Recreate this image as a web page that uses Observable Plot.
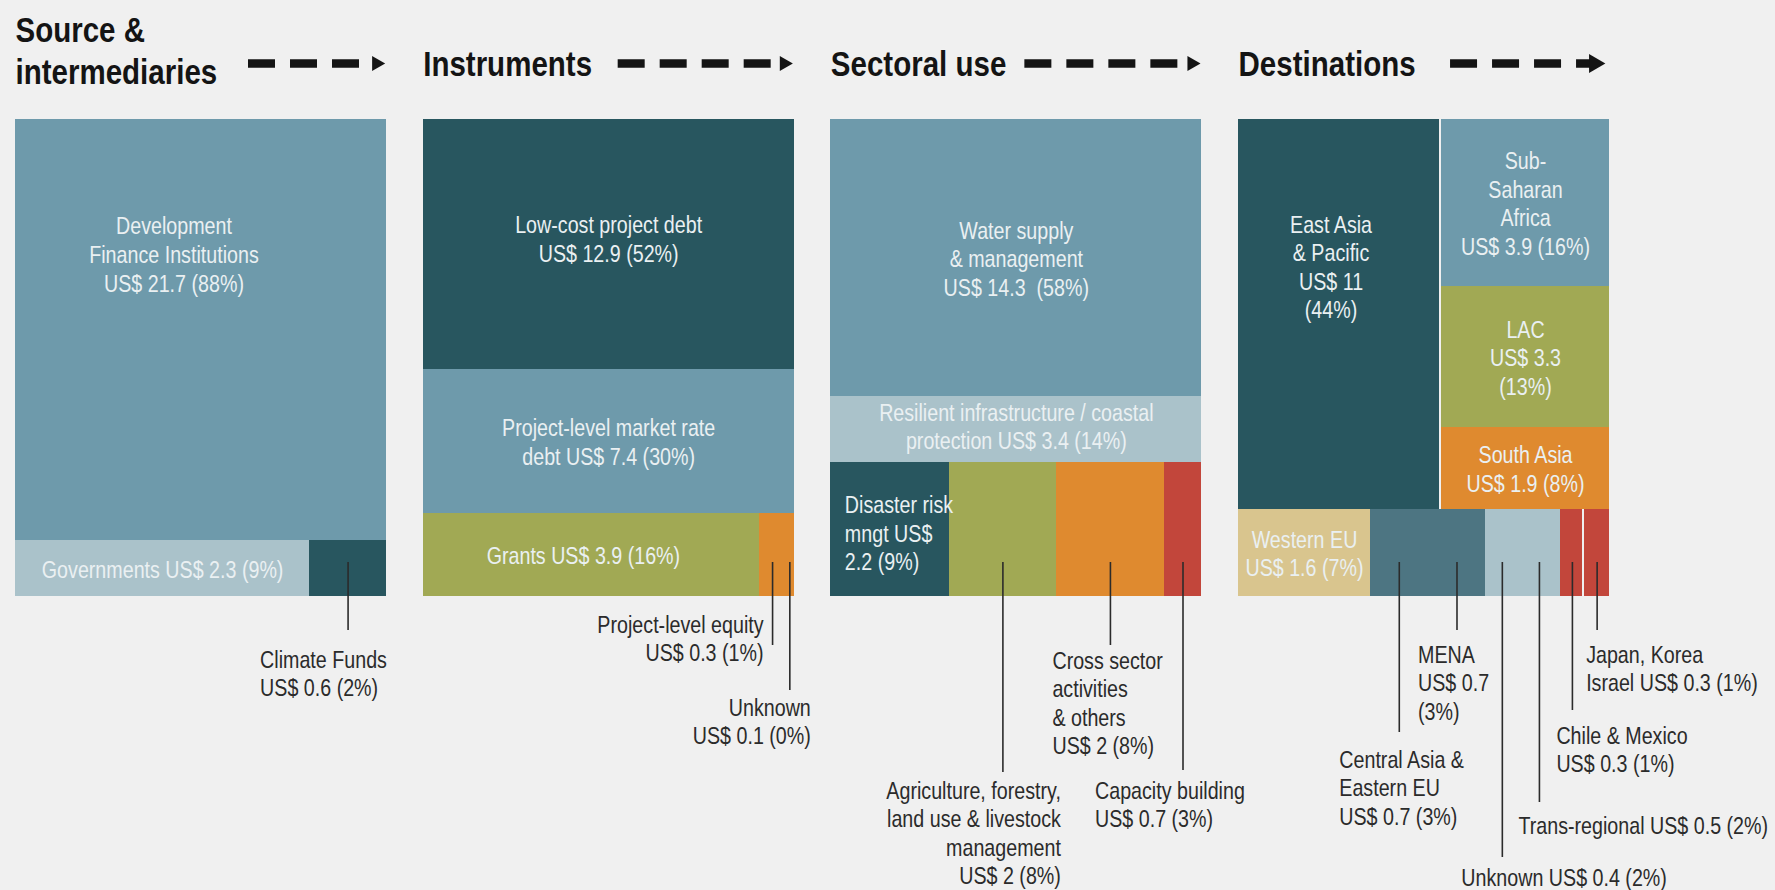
<!DOCTYPE html>
<html>
<head>
<meta charset="utf-8">
<script src="https://cdn.jsdelivr.net/npm/d3@7"></script>
<script src="https://cdn.jsdelivr.net/npm/@observablehq/plot@0.6"></script>
<style>
  html, body { margin: 0; padding: 0; background: #f0f0f0; overflow: hidden; }
  #chart svg { display: block; }
</style>
</head>
<body>
<div id="chart"></div>
<script>
// ---------------- DATA ----------------
const stages = ["Source & intermediaries", "Instruments", "Sectoral use", "Destinations"];
const stageTitles = ["Source &\nintermediaries", "Instruments", "Sectoral use", "Destinations"];

const sourceIds = ["dfi", "gov", "cf"];
const sourceLabels = ["Development\nFinance Institutions\nUS$ 21.7 (88%)", "Governments US$ 2.3 (9%)", "Climate Funds\nUS$ 0.6 (2%)"];
const sourceValues = [21.7, 2.3, 0.6];

const instrumentIds = ["lowcost", "market", "grants", "equity", "unknownInstr"];
const instrumentLabels = ["Low-cost project debt\nUS$ 12.9 (52%)", "Project-level market rate\ndebt US$ 7.4 (30%)", "Grants US$ 3.9 (16%)", "Project-level equity\nUS$ 0.3 (1%)", "Unknown\nUS$ 0.1 (0%)"];
const instrumentValues = [12.9, 7.4, 3.9, 0.3, 0.1];

const sectorIds = ["water", "resilient", "disaster", "agri", "cross", "capacity"];
const sectorLabels = ["Water supply\n& management\nUS$ 14.3  (58%)", "Resilient infrastructure / coastal\nprotection US$ 3.4 (14%)", "Disaster risk\nmngt US$\n2.2 (9%)", "Agriculture, forestry,\nland use & livestock\nmanagement\nUS$ 2 (8%)", "Cross sector\nactivities\n& others\nUS$ 2 (8%)", "Capacity building\nUS$ 0.7 (3%)"];
const sectorValues = [14.3, 3.4, 2.2, 2, 2, 0.7];

const destinationIds = ["eap", "ssa", "lac", "sasia", "weu", "caeeu", "mena", "unknownDest", "trans", "chmx", "jki"];
const destinationLabels = ["East Asia\n& Pacific\nUS$ 11\n(44%)", "Sub-\nSaharan\nAfrica\nUS$ 3.9 (16%)", "LAC\nUS$ 3.3\n(13%)", "South Asia\nUS$ 1.9 (8%)", "Western EU\nUS$ 1.6 (7%)", "Central Asia &\nEastern EU\nUS$ 0.7 (3%)", "MENA\nUS$ 0.7\n(3%)", "Unknown US$ 0.4 (2%)", "Trans-regional US$ 0.5 (2%)", "Chile & Mexico\nUS$ 0.3 (1%)", "Japan, Korea\nIsrael US$ 0.3 (1%)"];
const destinationValues = [11, 3.9, 3.3, 1.9, 1.6, 0.7, 0.7, 0.4, 0.5, 0.3, 0.3];

// ---------------- STRUCTURE (mosaic nesting: v = stacked rows, h = side by side) ----------------
const panelItems = [
  {ids: sourceIds, labels: sourceLabels, values: sourceValues, tree: {v: [0, {h: [1, 2]}]}},
  {ids: instrumentIds, labels: instrumentLabels, values: instrumentValues, tree: {v: [0, 1, {h: [2, 3, 4]}]}},
  {ids: sectorIds, labels: sectorLabels, values: sectorValues, tree: {v: [0, 1, {h: [2, 3, 4, 5]}]}},
  {ids: destinationIds, labels: destinationLabels, values: destinationValues,
   tree: {v: [{h: [0, {v: [1, 2, 3]}]}, {h: [4, 5, 6, 7, 8, 9, 10]}]}}
];

// ---------------- STYLE ----------------
const DARK = "#28565f", MED = "#6e9aab", LIGHT = "#aac2ca", OLIVE = "#a1a954",
      ORANGE = "#df8a2f", RED = "#c2463b", TAN = "#d9c58e", SLATE = "#4d7582";
const palette = {
  dfi: MED, gov: LIGHT, cf: DARK,
  lowcost: DARK, market: MED, grants: OLIVE, equity: ORANGE, unknownInstr: ORANGE,
  water: MED, resilient: LIGHT, disaster: DARK, agri: OLIVE, cross: ORANGE, capacity: RED,
  eap: DARK, ssa: MED, lac: OLIVE, sasia: ORANGE, weu: TAN, caeeu: SLATE, mena: SLATE,
  unknownDest: LIGHT, trans: LIGHT, chmx: RED, jki: RED
};
// thin light separators seen in the reference
const separated = new Set(["eap", "chmx"]);
const FONT = "'Liberation Sans', Arial, sans-serif";
const NARROW = 0.82; // horizontal condensing of all text
const INK = "#2b2b2b";
const TEXT_IN = "#eaf0f2";

// labels drawn inside blocks (with optional nudges in px)
const innerLabels = {
  dfi: {dx: -27, dy: -76}, gov: {}, lowcost: {dy: -6}, market: {}, grants: {dx: -8},
  water: {}, resilient: {dy: -4}, disaster: {anchor: "start", dx: 14, dy: 3},
  eap: {dx: -9, dy: -48}, ssa: {}, lac: {}, sasia: {}, weu: {}
};
// callouts below the blocks: leader drop (px below block), text offsets (px)
const callouts = [
  {id: "cf", drop: 34, dx: -88, dy: 51, anchor: "start"},
  {id: "equity", drop: 49, dx: -9, dy: 16, anchor: "end"},
  {id: "unknownInstr", drop: 94, dx: 21, dy: 99, anchor: "end"},
  {id: "agri", drop: 176, dx: 58, dy: 182, anchor: "end"},
  {id: "cross", drop: 49, dx: -58, dy: 52, anchor: "start"},
  {id: "capacity", drop: 174, dx: -88, dy: 182, anchor: "start"},
  {id: "caeeu", drop: 136, dx: -60, dy: 151, anchor: "start"},
  {id: "mena", drop: 34, dx: -39, dy: 46, anchor: "start"},
  {id: "unknownDest", drop: 261, dx: -41, dy: 269, anchor: "start"},
  {id: "trans", drop: 206, dx: -21, dy: 217, anchor: "start"},
  {id: "chmx", drop: 114, dx: -16, dy: 127, anchor: "start"},
  {id: "jki", drop: 34, dx: -11, dy: 46, anchor: "start"}
];
const arrowStartPx = [233, 195, 194, 212];

// ---------------- LAYOUT ----------------
const W = 1775, H = 890, MT = 119, MB = 294, ML = 15, MR = 166;
const GAP = 0.099;
const xMax = stages.length + (stages.length - 1) * GAP;
const totals = panelItems.map(p => d3.sum(p.values));
const yMax = d3.max(totals);
const ppx = (W - ML - MR) / xMax;
const ppu = (H - MT - MB) / yMax;

function nodeSum(node, values) {
  return typeof node === "number" ? values[node] : d3.sum(node.v || node.h, k => nodeSum(k, values));
}
function layout(node, values, x0, x1, y0, y1, out) {
  if (typeof node === "number") { out[node] = {x1: x0, x2: x1, y1: y0, y2: y1}; return; }
  const kids = node.v || node.h;
  const sums = kids.map(k => nodeSum(k, values));
  const tot = d3.sum(sums);
  let acc = 0;
  kids.forEach((k, i) => {
    const a = acc / tot, b = (acc + sums[i]) / tot;
    if (node.v) layout(k, values, x0, x1, y0 + a * (y1 - y0), y0 + b * (y1 - y0), out);
    else layout(k, values, x0 + a * (x1 - x0), x0 + b * (x1 - x0), y0, y1, out);
    acc += sums[i];
  });
}

const panels = stages.map((s, i) => ({stage: s, title: stageTitles[i], x0: i * (1 + GAP), x1: i * (1 + GAP) + 1, arrowStart: arrowStartPx[i], idx: i}));
const leaves = [];
panelItems.forEach((p, pi) => {
  const out = [];
  layout(p.tree, p.values, panels[pi].x0, panels[pi].x1, 0, totals[pi], out);
  p.ids.forEach((id, j) => {
    const r = out[j];
    leaves.push({stage: stages[pi], id, label: p.labels[j], value: p.values[j], ...r,
      cx: (r.x1 + r.x2) / 2, cy: (r.y1 + r.y2) / 2});
  });
});
const leafById = Object.fromEntries(leaves.map(d => [d.id, d]));

// ---------------- MARKS ----------------
const marks = [];
marks.push(Plot.rect(leaves.filter(d => !separated.has(d.id)), {
  x1: "x1", x2: "x2", y1: "y1", y2: "y2", fill: d => palette[d.id], shapeRendering: "crispEdges"
}));
marks.push(Plot.rect(leaves.filter(d => separated.has(d.id)), {
  x1: "x1", x2: "x2", y1: "y1", y2: "y2", fill: d => palette[d.id], insetRight: 2, shapeRendering: "crispEdges"
}));

// inner labels
for (const [id, o] of Object.entries(innerLabels)) {
  const d = leafById[id];
  marks.push(Plot.text([d], {
    x: o.anchor === "start" ? "x1" : "cx", y: "cy", text: "label",
    dx: o.dx || 0, dy: o.dy || 0, textAnchor: o.anchor || "middle", lineAnchor: "middle",
    fill: TEXT_IN, fontSize: 24, lineHeight: 1.19, fontFamily: FONT
  }));
}

// leader lines
marks.push(Plot.ruleX(callouts, {
  x: c => leafById[c.id].cx,
  y1: c => leafById[c.id].y2 - 34 / ppu,
  y2: c => leafById[c.id].y2 + c.drop / ppu,
  stroke: INK, strokeWidth: 1.6
}));
// callout texts
for (const c of callouts) {
  const d = leafById[c.id];
  marks.push(Plot.text([d], {
    x: "cx", y: "y2", text: "label", dx: c.dx, dy: c.dy,
    textAnchor: c.anchor, lineAnchor: "top",
    fill: INK, fontSize: 24, lineHeight: 1.19, fontFamily: FONT
  }));
}

// stage headings
marks.push(Plot.text(panels.filter(p => p.idx === 0), {
  x: "x0", y: () => 0, text: "title", dy: -36, textAnchor: "start", lineAnchor: "bottom",
  fontSize: 36, fontWeight: "bold", lineHeight: 1.14, fill: "#141414", fontFamily: FONT
}));
marks.push(Plot.text(panels.filter(p => p.idx > 0), {
  x: "x0", y: () => 0, text: "title", dy: -44, textAnchor: "start", lineAnchor: "bottom",
  fontSize: 36, fontWeight: "bold", fill: "#141414", fontFamily: FONT
}));
// dashed flow arrows
marks.push(Plot.ruleY(panels, {
  y: () => 0, x1: p => p.x0 + p.arrowStart / ppx,
  x2: p => p.x1 - (p.idx === 3 ? 19 : 17) / ppx,
  dy: -56, stroke: "#141414", strokeWidth: 8.5, strokeDasharray: "27,15"
}));
marks.push(Plot.dot(panels.filter(p => p.idx < 3), {
  x: "x1", y: () => 0, dx: -10, dy: -56, symbol: "triangle", rotate: 90, r: 5.6, fill: "#141414", stroke: null
}));
marks.push(Plot.dot(panels.filter(p => p.idx === 3), {
  x: "x1", y: () => 0, dx: -15, dy: -56, symbol: "triangle", rotate: 90, r: 7, fill: "#141414", stroke: null
}));

const chart = Plot.plot({
  width: W, height: H,
  marginTop: MT, marginBottom: MB, marginLeft: ML, marginRight: MR,
  x: {domain: [0, xMax], axis: null},
  y: {domain: [0, yMax], reverse: true, axis: null},
  color: {type: "identity"},
  style: {background: "#f0f0f0", fontFamily: FONT, overflow: "visible"},
  marks
});
// condense all text horizontally around its anchor (narrow typeface look)
chart.querySelectorAll("text").forEach(t => {
  const tr = t.getAttribute("transform") || "";
  t.setAttribute("transform", `${tr} scale(${NARROW},1)`);
});
document.getElementById("chart").append(chart);
</script>
</body>
</html>
